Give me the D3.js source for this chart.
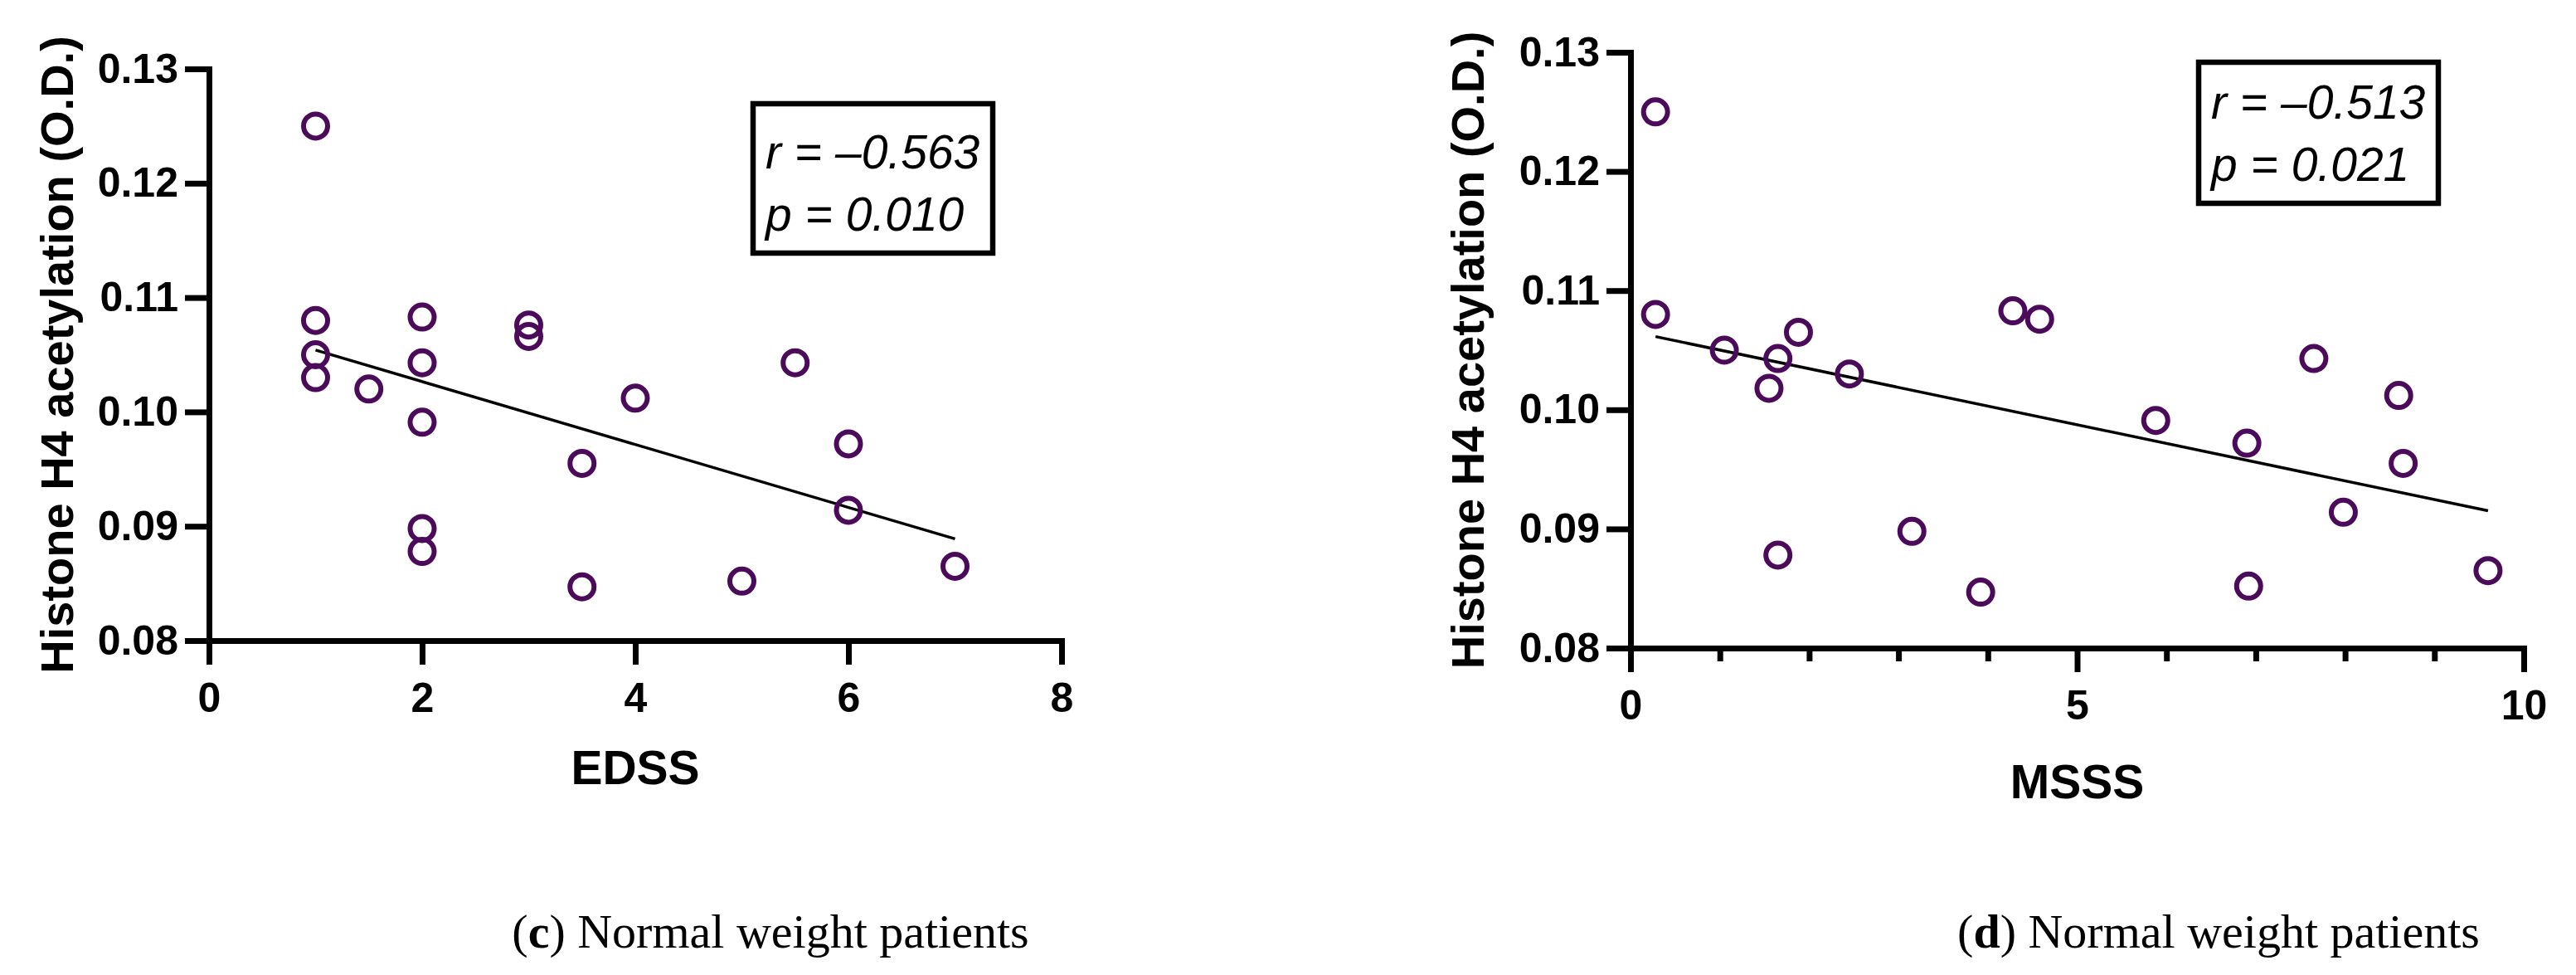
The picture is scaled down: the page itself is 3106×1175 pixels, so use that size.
<!DOCTYPE html>
<html>
<head>
<meta charset="utf-8">
<script src="https://cdn.jsdelivr.net/npm/d3@7"></script>
<style>
  body { margin: 0; background: #fff; }
  svg { display: block; }
</style>
</head>
<body>
<div id="chart"></div>
<script>
// data
const edssScore = [1, 1, 1, 1, 1.5, 2, 2, 2, 2, 2, 3, 3, 3.5, 3.5, 4, 5, 5.5, 6, 6, 7]
const edssH4 = [0.125, 0.108, 0.105, 0.103, 0.102, 0.1083, 0.1043, 0.0991, 0.0898, 0.0878,
                0.1076, 0.1066, 0.0955, 0.0847, 0.1012, 0.0852, 0.1043, 0.0972, 0.0914, 0.0865]

const msssScore = [0.28, 0.28, 1.05, 1.55, 1.65, 1.88, 1.65, 2.45, 3.15, 3.92,
                   4.28, 4.58, 5.88, 6.9, 6.92, 7.65, 7.98, 8.6, 8.65, 9.6]
const msssH4 = [0.125, 0.108, 0.105, 0.1018, 0.1043, 0.1065, 0.0878, 0.103, 0.0898, 0.0847,
                0.1083, 0.1076, 0.0991, 0.0972, 0.0852, 0.1043, 0.0914, 0.1012, 0.0955, 0.0865]

const yTicks = [0.08, 0.09, 0.10, 0.11, 0.12, 0.13]
const edssTicks = [0, 2, 4, 6, 8]
const msssTicks = [0, 5, 10]
const msssMinor = [1, 2, 3, 4, 6, 7, 8, 9]

const statR = ["–0.563", "–0.513"]
const statP = ["0.010", "0.021"]
const panelLetters = ["c", "d"]
const captionText = " Normal weight patients"

const dotColor = "#4b0a5a"

const width = 3106
const height = 1175

const svg = d3.select("#chart")
  .append("svg")
    .attr("width", width)
    .attr("height", height)

// least squares fit, drawn across the data range
function fitLine(xs, ys) {
  const mx = d3.mean(xs), my = d3.mean(ys)
  const sxy = d3.sum(xs, (v, i) => (v - mx) * (ys[i] - my))
  const sxx = d3.sum(xs, v => (v - mx) * (v - mx))
  const slope = sxy / sxx
  const [x0, x1] = d3.extent(xs)
  return [[x0, my + slope * (x0 - mx)], [x1, my + slope * (x1 - mx)]]
}

function drawPanel(p) {
  const xScale = d3.scaleLinear().domain(p.xDomain).range([p.left, p.right])
  const yScale = d3.scaleLinear().domain([0.08, 0.13]).range([p.bottom, p.top])

  const g = svg.append("g")

  // y axis
  const yAxis = g.append("g")
    .attr("transform", `translate(${p.left},0)`)
    .call(d3.axisLeft(yScale)
      .tickValues(yTicks)
      .tickFormat(d3.format(".2f"))
      .tickSize(29)
      .tickSizeOuter(0)
      .tickPadding(8))

  // x axis
  const xAxis = g.append("g")
    .attr("transform", `translate(0,${p.bottom})`)
    .call(d3.axisBottom(xScale)
      .tickValues(p.xTicks)
      .tickFormat(d3.format("d"))
      .tickSize(29)
      .tickSizeOuter(0)
      .tickPadding(21))

  if (p.minor) {
    const minor = g.append("g")
      .attr("transform", `translate(0,${p.bottom})`)
      .call(d3.axisBottom(xScale).tickValues(p.minor).tickSize(16).tickFormat(""))
    minor.select(".domain").remove()
    minor.selectAll("line").attr("stroke", "#000").attr("stroke-width", 7)
  }

  for (const ax of [yAxis, xAxis]) {
    ax.select(".domain").attr("stroke", "#000").attr("stroke-width", 7).attr("stroke-linecap", "square")
    ax.selectAll(".tick line").attr("stroke", "#000").attr("stroke-width", 7)
    ax.selectAll(".tick text")
      .attr("fill", "#000")
      .style("font-family", "'Liberation Sans', Arial, sans-serif")
      .style("font-weight", "bold")
      .style("font-size", "50px")
  }

  // regression line
  const lineGenerator = d3.line()
    .x(d => xScale(d[0]))
    .y(d => yScale(d[1]))
  g.append("path")
    .attr("d", lineGenerator(fitLine(p.xs, p.ys)))
    .attr("fill", "none")
    .attr("stroke", "#000")
    .attr("stroke-width", 3.5)

  // points
  g.selectAll("circle")
    .data(p.xs.map((v, i) => [v, p.ys[i]]))
    .enter().append("circle")
      .attr("cx", d => xScale(d[0]))
      .attr("cy", d => yScale(d[1]))
      .attr("r", 14.5)
      .attr("fill", "none")
      .attr("stroke", dotColor)
      .attr("stroke-width", 6)

  // stats box
  g.append("rect")
    .attr("x", p.box[0])
    .attr("y", p.box[1])
    .attr("width", 289)
    .attr("height", p.box[2])
    .attr("fill", "none")
    .attr("stroke", "#000")
    .attr("stroke-width", 6.5)

  const statText = g.append("g")
    .style("font-family", "'Liberation Sans', Arial, sans-serif")
    .style("font-style", "italic")
    .style("font-size", "57px")
  statText.append("text")
    .attr("x", p.box[0] + 15)
    .attr("y", p.box[1] + p.lines[0])
    .text(`r = ${p.r}`)
  statText.append("text")
    .attr("x", p.box[0] + 15)
    .attr("y", p.box[1] + p.lines[1])
    .text(`p = ${p.p}`)

  // axis titles
  g.append("text")
    .attr("x", (p.left + p.right) / 2)
    .attr("y", p.xTitleY)
    .attr("text-anchor", "middle")
    .style("font-family", "'Liberation Sans', Arial, sans-serif")
    .style("font-weight", "bold")
    .style("font-size", "57px")
    .text(p.xTitle)

  g.append("text")
    .attr("transform", `translate(${p.yTitleX},${(p.top + p.bottom) / 2}) rotate(-90)`)
    .attr("text-anchor", "middle")
    .style("font-family", "'Liberation Sans', Arial, sans-serif")
    .style("font-weight", "bold")
    .style("font-size", "56px")
    .text("Histone H4 acetylation (O.D.)")

  // caption
  const cap = g.append("text")
    .attr("x", p.captionX)
    .attr("y", 1142)
    .attr("text-anchor", "middle")
    .style("font-family", "'Liberation Serif', 'DejaVu Serif', serif")
    .style("font-size", "58px")
  cap.append("tspan").text("(")
  cap.append("tspan").style("font-weight", "bold").text(p.letter)
  cap.append("tspan").text(")" + captionText)
}

drawPanel({
  xs: edssScore, ys: edssH4,
  xDomain: [0, 8], xTicks: edssTicks,
  left: 252, right: 1280, top: 83, bottom: 772,
  xTitle: "EDSS", xTitleY: 945, yTitleX: 88,
  box: [908, 125, 180], lines: [78, 153], r: statR[0], p: statP[0],
  letter: panelLetters[0], captionX: 929
})

drawPanel({
  xs: msssScore, ys: msssH4,
  xDomain: [0, 10], xTicks: msssTicks, minor: msssMinor,
  left: 1966, right: 3043, top: 63, bottom: 781,
  xTitle: "MSSS", xTitleY: 962, yTitleX: 1789,
  box: [2651, 75, 170], lines: [68, 143], r: statR[1], p: statP[1],
  letter: panelLetters[1], captionX: 2675
})
</script>
</body>
</html>
